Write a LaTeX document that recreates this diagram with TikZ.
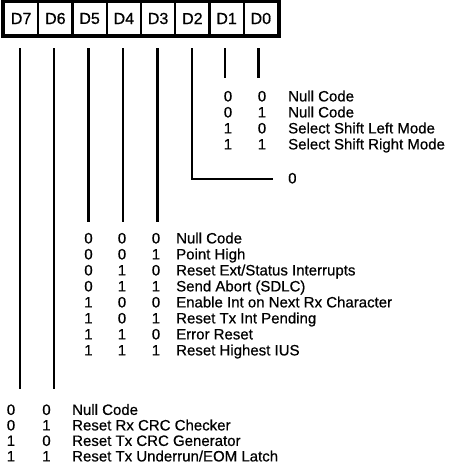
\documentclass[tikz,border=0pt]{standalone}
\usepackage{fontspec}
\setmainfont[FakeBold=0.6]{Liberation Sans}
\begin{document}
\begin{tikzpicture}[x=1pt,y=-1pt,
  fnt/.style={font=\fontsize{15}{18}\selectfont},
  txt/.style={fnt, inner sep=0pt, anchor=base west},
  bit/.style={fnt, inner sep=0pt, anchor=base},
  lead/.style={line width=2.4pt},
  cell/.style={font=\fontsize{16}{19}\selectfont, draw, line width=2.2pt, minimum width=34.25pt, minimum height=33pt, inner sep=0pt},
  frame/.style={line width=4.5pt}]
\useasboundingbox (0,0) rectangle (448,469);
% register
\foreach \lab [count=\i from 0] in {D7,D6,D5,D4,D3,D2,D1,D0} {
  \node[cell] (c\i) at ({4+34.25*(\i+0.5)},18.5) {\raisebox{-3.5pt}{\lab}};
}
\draw[frame] (c0.north west) rectangle (c7.south east);
% leads
\foreach \x/\e [count=\i from 0] in {20/389, 54/389, 88.5/222, 123/222, 157.5/222, 192/179, 225/78, 258.5/78} {
  \coordinate (t\i) at (\x,48);
  \coordinate (b\i) at (\x,\e);
}
\coordinate (z) at (273,179);
\foreach \i in {0,1,2,3,4,6,7} { \draw[lead] (t\i) -- (b\i); }
\draw[lead] (t5) -- (b5) -- (z);
% D1 D0
\node[bit] (a1) at (228,101.4) {0}; \node[bit] (a2) at (262,101.4) {0}; \node[txt] (a3) at (288,101.4) {Null Code};
\node[bit] (a4) at (228,117.4) {0}; \node[bit] (a5) at (262,117.4) {1}; \node[txt] (a6) at (288,117.4) {Null Code};
\node[bit] (a7) at (228,133.4) {1}; \node[bit] (a8) at (262,133.4) {0}; \node[txt] (a9) at (288,133.4) {Select Shift Left Mode};
\node[bit] (a10) at (228,149.4) {1}; \node[bit] (a11) at (262,149.4) {1}; \node[txt] (a12) at (288,149.4) {Select Shift Right Mode};
% D2
\node[txt] (z0) at (288,183.4) {0};
% D5 D4 D3
\node[bit] (m1) at (88.5,243.4) {0}; \node[bit] (m2) at (122,243.4) {0}; \node[bit] (m3) at (156,243.4) {0}; \node[txt] (m4) at (176,243.4) {Null Code};
\node[bit] (m5) at (88.5,259.4) {0}; \node[bit] (m6) at (122,259.4) {0}; \node[bit] (m7) at (156,259.4) {1}; \node[txt] (m8) at (176,259.4) {Point High};
\node[bit] (m9) at (88.5,275.4) {0}; \node[bit] (m10) at (122,275.4) {1}; \node[bit] (m11) at (156,275.4) {0}; \node[txt] (m12) at (176,275.4) {Reset Ext/Status Interrupts};
\node[bit] (m13) at (88.5,291.4) {0}; \node[bit] (m14) at (122,291.4) {1}; \node[bit] (m15) at (156,291.4) {1}; \node[txt] (m16) at (176,291.4) {Send Abort (SDLC)};
\node[bit] (m17) at (88.5,307.4) {1}; \node[bit] (m18) at (122,307.4) {0}; \node[bit] (m19) at (156,307.4) {0}; \node[txt] (m20) at (176,307.4) {Enable Int on Next Rx Character};
\node[bit] (m21) at (88.5,323.4) {1}; \node[bit] (m22) at (122,323.4) {0}; \node[bit] (m23) at (156,323.4) {1}; \node[txt] (m24) at (176,323.4) {Reset Tx Int Pending};
\node[bit] (m25) at (88.5,339.4) {1}; \node[bit] (m26) at (122,339.4) {1}; \node[bit] (m27) at (156,339.4) {0}; \node[txt] (m28) at (176,339.4) {Error Reset};
\node[bit] (m29) at (88.5,355.4) {1}; \node[bit] (m30) at (122,355.4) {1}; \node[bit] (m31) at (156,355.4) {1}; \node[txt] (m32) at (176,355.4) {Reset Highest IUS};
% D7 D6
\node[bit] (h1) at (11,414.9) {0}; \node[bit] (h2) at (46.5,414.9) {0}; \node[txt] (h3) at (72,414.9) {Null Code};
\node[bit] (h4) at (11,430.4) {0}; \node[bit] (h5) at (46.5,430.4) {1}; \node[txt] (h6) at (72,430.4) {Reset Rx CRC Checker};
\node[bit] (h7) at (11,445.9) {1}; \node[bit] (h8) at (46.5,445.9) {0}; \node[txt] (h9) at (72,445.9) {Reset Tx CRC Generator};
\node[bit] (h10) at (11,461.4) {1}; \node[bit] (h11) at (46.5,461.4) {1}; \node[txt] (h12) at (72,461.4) {Reset Tx Underrun/EOM Latch};
\end{tikzpicture}
\end{document}
